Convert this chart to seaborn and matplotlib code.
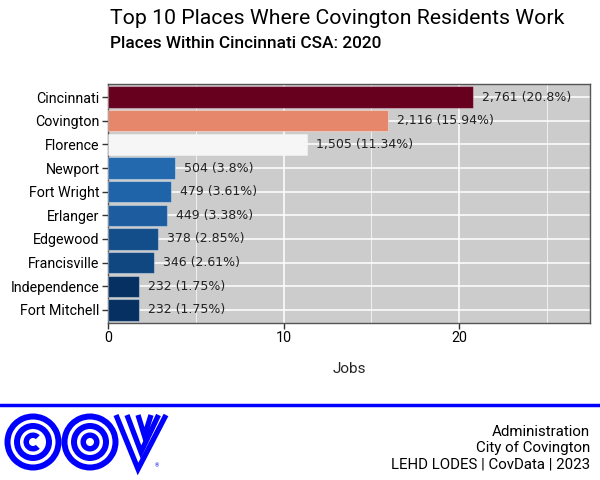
import numpy as np
import pandas as pd
import seaborn as sns
import matplotlib.pyplot as plt
from matplotlib.colors import Normalize, to_hex
from matplotlib.patches import Wedge

# Data
places = ['Cincinnati', 'Covington', 'Florence', 'Newport', 'Fort Wright',
          'Erlanger', 'Edgewood', 'Francisville', 'Independence', 'Fort Mitchell']
jobs = [2761, 2116, 1505, 504, 479, 449, 378, 346, 232, 232]
shares = [20.8, 15.94, 11.34, 3.8, 3.61, 3.38, 2.85, 2.61, 1.75, 1.75]

df = pd.DataFrame({'place': places, 'jobs': jobs, 'share': shares})
df['label'] = [f"{j:,} ({s:g}%)" for j, s in zip(df['jobs'], df['share'])]

# continuous RdBu fill, min -> dark blue, max -> dark red
cmap = plt.get_cmap('RdBu_r')
norm = Normalize(df['share'].min(), df['share'].max())
palette = {p: to_hex(cmap(norm(s))) for p, s in zip(df['place'], df['share'])}

sns.set_theme(style='white')
plt.rcParams['font.family'] = ['Roboto', 'DejaVu Sans']

fig = plt.figure(figsize=(6, 4.8), dpi=100)
ax = fig.add_axes([108 / 600, 1 - 323 / 480, 482 / 600, 239 / 480])

sns.barplot(data=df, x='share', y='place', hue='place', palette=palette,
            legend=False, orient='h', width=0.9, saturation=1,
            edgecolor=(1, 1, 1, 0.35), linewidth=0.8, ax=ax, zorder=3)

for i, row in df.iterrows():
    ax.text(row['share'] + 0.5, i, row['label'], va='center', ha='left',
            fontsize=9, color='#222222', family='DejaVu Sans', zorder=4)

# panel styling
ax.set_facecolor('#cccccc')
ax.set_xlim(0, 27.45)
ax.set_ylim(9.55, -0.55)
ax.set_xticks([0, 10, 20])
ax.set_xticks([5, 15, 25], minor=True)
ax.grid(True, which='major', color='white', linewidth=1.1, zorder=0)
ax.grid(True, which='minor', axis='x', color='white', linewidth=0.5, zorder=0)
ax.set_axisbelow(True)
for s in ax.spines.values():
    s.set_visible(True)
    s.set_color('#555555')
    s.set_linewidth(1.0)
ax.tick_params(axis='both', which='major', length=4, width=1, color='#333333',
               labelsize=10.3, labelcolor='black', pad=2, left=True, bottom=True)
ax.tick_params(axis='x', which='minor', length=0)
ax.set_xlabel('Jobs', fontsize=11, labelpad=12)
ax.set_ylabel('')

# titles
fig.text(110 / 600, 1 - 18 / 480, 'Top 10 Places Where Covington Residents Work',
         ha='left', va='center', fontsize=15.3, color='black')
fig.text(110 / 600, 1 - 44 / 480, 'Places Within Cincinnati CSA: 2020',
         ha='left', va='center', fontsize=12.4, fontweight='medium', color='black')

# footer
blue = '#0000ff'
fig.add_artist(plt.Line2D([0, 1], [1 - 405 / 480] * 2, color=blue, linewidth=2.5,
                          transform=fig.transFigure))
for txt, y in [('Administration', 432), ('City of Covington', 448),
               ('LEHD LODES | CovData | 2023', 464)]:
    fig.text(590 / 600, 1 - y / 480, txt, ha='right', va='center',
             fontsize=10.8, color='black')

# COV logo, drawn in pixel units
lax = fig.add_axes([0, 1 - 478 / 480, 170 / 600, 68 / 480])
lax.set_xlim(0, 170)
lax.set_ylim(478, 410)
lax.axis('off')
for cx in (33, 90):
    for r in (28.5, 19):
        lax.add_patch(Wedge((cx, 442), r, 0, 360, width=6, color=blue, lw=0))
lax.add_patch(Wedge((33, 442), 9.5, 45, 315, width=5.5, color=blue, lw=0))
lax.add_patch(Wedge((90, 442), 9.5, 0, 360, width=5.5, color=blue, lw=0))
chevrons = [([116, 138, 166], [415, 469, 415]),
            ([127, 141, 158.5], [415, 452, 415]),
            ([138, 144.5, 151], [415, 436, 415])]
for xs, ys in chevrons:
    lax.plot(xs, ys, color=blue, linewidth=3.8,
             solid_joinstyle='miter', solid_capstyle='butt')
lax.text(157, 466, '\u00ae', color=blue, fontsize=4, ha='center', va='center')

fig.savefig('out.png', dpi=100)
